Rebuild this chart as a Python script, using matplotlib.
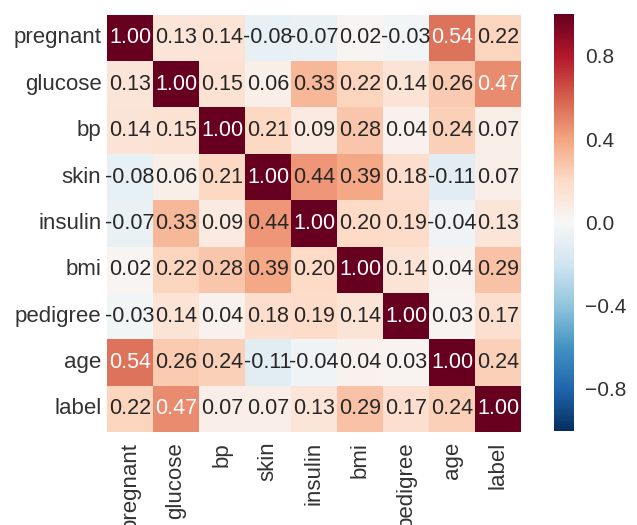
import numpy as np
import matplotlib
matplotlib.use("Agg")
import matplotlib.pyplot as plt
import seaborn as sns

labels = ["pregnant", "glucose", "bp", "skin", "insulin", "bmi", "pedigree", "age", "label"]
corr = [
    [1.00, 0.13, 0.14, -0.08, -0.07, 0.02, -0.03, 0.54, 0.22],
    [0.13, 1.00, 0.15, 0.06, 0.33, 0.22, 0.14, 0.26, 0.47],
    [0.14, 0.15, 1.00, 0.21, 0.09, 0.28, 0.04, 0.24, 0.07],
    [-0.08, 0.06, 0.21, 1.00, 0.44, 0.39, 0.18, -0.11, 0.07],
    [-0.07, 0.33, 0.09, 0.44, 1.00, 0.20, 0.19, -0.04, 0.13],
    [0.02, 0.22, 0.28, 0.39, 0.20, 1.00, 0.14, 0.04, 0.29],
    [-0.03, 0.14, 0.04, 0.18, 0.19, 0.14, 1.00, 0.03, 0.17],
    [0.54, 0.26, 0.24, -0.11, -0.04, 0.04, 0.03, 1.00, 0.24],
    [0.22, 0.47, 0.07, 0.07, 0.13, 0.29, 0.17, 0.24, 1.00],
]
cbar_ticks = [-0.8, -0.4, 0.0, 0.4, 0.8]

sns.set_style("white")
plt.rcParams['font.family'] = ['Liberation Sans', 'DejaVu Sans']
plt.rcParams['text.color'] = '#333333'
plt.rcParams['xtick.color'] = '#333333'
plt.rcParams['ytick.color'] = '#333333'

fig = plt.figure(figsize=(6.37, 5.25), dpi=100)
ax = fig.add_axes([0.168, 0.177, 0.650, 0.795])
cax = fig.add_axes([0.870, 0.180, 0.031, 0.793])

sns.heatmap(np.array(corr), ax=ax, cbar_ax=cax, cmap="RdBu_r", vmin=-1, vmax=1,
            annot=True, fmt=".2f", annot_kws={"size": 15.5},
            xticklabels=labels, yticklabels=labels, square=False,
            cbar_kws={"ticks": cbar_ticks})
ax.tick_params(axis='y', length=0, labelsize=16, pad=4)
ax.tick_params(axis='x', length=0, labelsize=16, pad=7)
plt.setp(ax.get_xticklabels(), rotation=90)
plt.setp(ax.get_yticklabels(), rotation=0)
cax.tick_params(length=0, labelsize=15, pad=8)
cax.yaxis.set_major_formatter(matplotlib.ticker.FuncFormatter(lambda v, p: f"{v:.1f}".replace("-", "\u2212")))
for s in cax.spines.values():
    s.set_visible(False)

fig.savefig("out.png", dpi=100)
